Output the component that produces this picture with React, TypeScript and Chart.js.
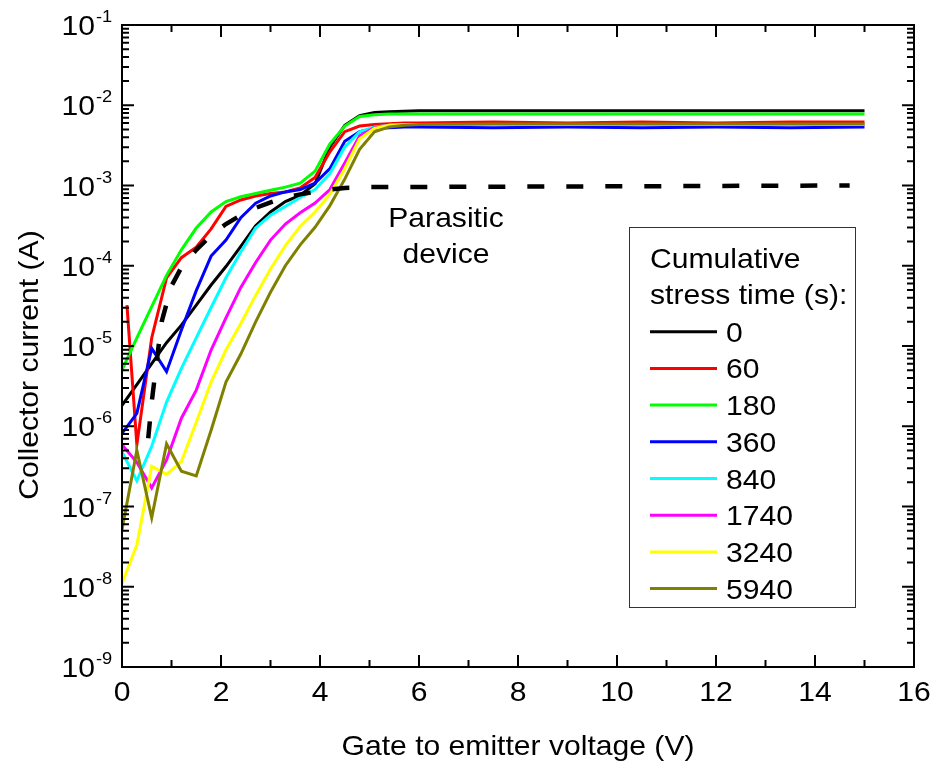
import { useEffect, useRef } from 'react';
import { Chart, registerables } from 'chart.js';

Chart.register(...registerables);

// Gate-emitter sweep (V)
const vgeSweep = [0, 0.3, 0.6, 0.9, 1.2, 1.5, 1.8, 2.1, 2.4, 2.7, 3.0, 3.3, 3.6, 3.9, 4.2, 4.5, 4.8, 5.1, 5.4, 5.7, 6.0, 7.5, 9, 10.5, 12, 13.5, 15];
const vgeSweep60 = [0.1, 0.3, 0.6, 0.9, 1.2, 1.5, 1.8, 2.1, 2.4, 2.7, 3.0, 3.3, 3.6, 3.9, 4.2, 4.5, 4.8, 5.1, 5.4, 5.7, 6.0, 7.5, 9, 10.5, 12, 13.5, 15];

// Collector current (A) after each cumulative stress time
const ic0 = [1.82e-6, 3.31e-6, 6.03e-6, 1.10e-5, 1.82e-5, 3.24e-5, 5.75e-5, 9.77e-5, 1.74e-4, 3.16e-4, 4.68e-4, 6.31e-4, 7.59e-4, 1.05e-3, 3.02e-3, 5.62e-3, 7.41e-3, 8.13e-3, 8.32e-3, 8.41e-3, 8.51e-3, 8.51e-3, 8.51e-3, 8.51e-3, 8.51e-3, 8.51e-3, 8.51e-3];
const ic60 = [3.24e-5, 5.89e-7, 1.26e-5, 7.08e-5, 1.26e-4, 1.70e-4, 2.88e-4, 5.50e-4, 6.61e-4, 7.41e-4, 7.94e-4, 8.32e-4, 9.33e-4, 1.26e-3, 2.63e-3, 4.68e-3, 5.50e-3, 5.75e-3, 5.89e-3, 6.03e-3, 6.03e-3, 6.17e-3, 6.03e-3, 6.17e-3, 6.03e-3, 6.17e-3, 6.17e-3];
const ic180 = [5.01e-6, 1.26e-5, 3.09e-5, 7.59e-5, 1.58e-4, 2.95e-4, 4.68e-4, 6.31e-4, 7.24e-4, 7.94e-4, 8.71e-4, 9.55e-4, 1.07e-3, 1.51e-3, 3.31e-3, 5.50e-3, 7.24e-3, 7.59e-3, 7.76e-3, 7.76e-3, 7.76e-3, 7.76e-3, 7.76e-3, 7.76e-3, 7.76e-3, 7.76e-3, 7.76e-3];
const ic360 = [8.13e-7, 1.45e-6, 9.33e-6, 4.79e-6, 1.58e-5, 4.90e-5, 1.32e-4, 2.09e-4, 3.98e-4, 6.03e-4, 7.41e-4, 8.32e-4, 8.91e-4, 1.07e-3, 1.62e-3, 3.55e-3, 4.68e-3, 5.13e-3, 5.25e-3, 5.37e-3, 5.37e-3, 5.25e-3, 5.37e-3, 5.25e-3, 5.37e-3, 5.25e-3, 5.37e-3];
const ic840 = [4.79e-7, 2.09e-7, 5.62e-7, 2.00e-6, 5.25e-6, 1.26e-5, 3.02e-5, 7.08e-5, 1.48e-4, 2.95e-4, 4.27e-4, 5.50e-4, 7.08e-4, 8.91e-4, 1.41e-3, 3.02e-3, 4.68e-3, 5.37e-3, 5.62e-3, 5.75e-3, 5.75e-3, 5.75e-3, 5.75e-3, 5.75e-3, 5.75e-3, 5.75e-3, 5.75e-3];
const ic1740 = [5.89e-7, 3.55e-7, 1.70e-7, 3.80e-7, 1.26e-6, 2.82e-6, 8.91e-6, 2.24e-5, 5.37e-5, 1.10e-4, 2.09e-4, 3.31e-4, 4.57e-4, 6.03e-4, 8.91e-4, 1.91e-3, 4.17e-3, 5.25e-3, 5.62e-3, 5.75e-3, 5.75e-3, 5.75e-3, 5.75e-3, 5.75e-3, 5.75e-3, 5.75e-3, 5.75e-3];
const ic3240 = [1.10e-8, 3.31e-8, 3.16e-7, 2.51e-7, 3.63e-7, 1.12e-6, 3.55e-6, 8.91e-6, 1.91e-5, 4.27e-5, 9.12e-5, 1.78e-4, 3.09e-4, 4.68e-4, 7.76e-4, 1.62e-3, 3.80e-3, 5.13e-3, 5.62e-3, 5.75e-3, 5.75e-3, 5.75e-3, 5.75e-3, 5.75e-3, 5.75e-3, 5.75e-3, 5.75e-3];
const ic5940 = [5.13e-8, 5.01e-7, 7.24e-8, 6.03e-7, 2.75e-7, 2.40e-7, 8.91e-7, 3.55e-6, 7.94e-6, 2.00e-5, 4.68e-5, 1.00e-4, 1.82e-4, 3.02e-4, 5.62e-4, 1.20e-3, 2.82e-3, 4.68e-3, 5.37e-3, 5.62e-3, 5.75e-3, 5.83e-3, 5.83e-3, 5.83e-3, 5.83e-3, 5.83e-3, 5.83e-3];

// Parasitic device characteristic
const vgeParasitic = [0.53, 0.6, 0.8, 1.0, 1.2, 1.5, 1.8, 2.1, 2.4, 2.7, 3.0, 3.3, 3.6, 3.9, 4.2, 4.5, 5.0, 14.7];
const icParasitic = [7.08e-7, 2.00e-6, 2.00e-5, 5.62e-5, 9.55e-5, 1.58e-4, 2.40e-4, 3.31e-4, 4.27e-4, 5.25e-4, 6.17e-4, 7.08e-4, 7.76e-4, 8.32e-4, 8.91e-4, 9.33e-4, 9.55e-4, 1.00e-3];

const stressLabels = ['0', '60', '180', '360', '840', '1740', '3240', '5940'];
const stressColors = ['#000000', '#ff0000', '#00ff00', '#0000ff', '#00ffff', '#ff00ff', '#ffff00', '#808000'];
const stressSeries = [ic0, ic60, ic180, ic360, ic840, ic1740, ic3240, ic5940];

const xMajorTicks = [0, 2, 4, 6, 8, 10, 12, 14, 16];
const xMinorTicks = [1, 3, 5, 7, 9, 11, 13, 15];
const yDecades = [-9, -8, -7, -6, -5, -4, -3, -2, -1];

const FONT = "'Liberation Sans', Arial, sans-serif";
const STRETCH = 1.075;

function drawText(
  ctx: CanvasRenderingContext2D,
  text: string,
  x: number,
  y: number,
  size: number,
  align: CanvasTextAlign,
  rotate = false
) {
  ctx.save();
  ctx.translate(x, y);
  if (rotate) ctx.rotate(-Math.PI / 2);
  ctx.scale(STRETCH, 1);
  ctx.font = `${size}px ${FONT}`;
  ctx.textAlign = align;
  ctx.textBaseline = 'alphabetic';
  ctx.fillStyle = '#000';
  ctx.fillText(text, 0, 0);
  ctx.restore();
}

const framePlugin = {
  id: 'frame',
  afterDatasetsDraw(chart: any) {
    const { ctx, chartArea: a, scales } = chart;
    const xs = scales.x;
    const ys = scales.y;
    ctx.save();
    ctx.strokeStyle = '#000';
    ctx.lineWidth = 2;
    ctx.strokeRect(a.left, a.top, a.right - a.left, a.bottom - a.top);

    // x ticks (bottom and top, pointing inward)
    ctx.beginPath();
    for (const v of xMajorTicks) {
      const px = xs.getPixelForValue(v);
      ctx.moveTo(px, a.bottom); ctx.lineTo(px, a.bottom - 12);
      ctx.moveTo(px, a.top); ctx.lineTo(px, a.top + 12);
    }
    for (const v of xMinorTicks) {
      const px = xs.getPixelForValue(v);
      ctx.moveTo(px, a.bottom); ctx.lineTo(px, a.bottom - 7);
      ctx.moveTo(px, a.top); ctx.lineTo(px, a.top + 7);
    }
    // y ticks (left and right, log decades with minor ticks)
    for (const e of yDecades) {
      const base = Math.pow(10, e);
      const py = ys.getPixelForValue(base);
      ctx.moveTo(a.left, py); ctx.lineTo(a.left + 12, py);
      ctx.moveTo(a.right, py); ctx.lineTo(a.right - 12, py);
      if (e < -1) {
        for (let m = 2; m <= 9; m++) {
          const pm = ys.getPixelForValue(m * base);
          ctx.moveTo(a.left, pm); ctx.lineTo(a.left + 7, pm);
          ctx.moveTo(a.right, pm); ctx.lineTo(a.right - 7, pm);
        }
      }
    }
    ctx.stroke();

    // tick labels
    for (const v of xMajorTicks) {
      drawText(ctx, String(v), xs.getPixelForValue(v), a.bottom + 34, 28, 'center');
    }
    for (const e of yDecades) {
      const py = ys.getPixelForValue(Math.pow(10, e));
      drawText(ctx, '10', 95, py + 10, 28, 'right');
      drawText(ctx, String(e), 96, py - 3, 17, 'left');
    }

    // axis titles
    drawText(ctx, 'Gate to emitter voltage (V)', 518, 755, 28, 'center');
    drawText(ctx, 'Collector current (A)', 38, 365, 28, 'center', true);

    // annotation
    drawText(ctx, 'Parasitic', 446, 227, 28, 'center');
    drawText(ctx, 'device', 446, 263, 28, 'center');

    // legend box
    ctx.lineWidth = 1;
    ctx.strokeStyle = '#333';
    ctx.strokeRect(629.5, 227.5, 226, 380);
    drawText(ctx, 'Cumulative', 650, 268, 28, 'left');
    drawText(ctx, 'stress time (s):', 650, 304, 28, 'left');
    chart.data.datasets.forEach((ds: any, i: number) => {
      if (i >= stressLabels.length) return;
      const base = 341.7 + i * 36.7;
      ctx.strokeStyle = ds.borderColor;
      ctx.lineWidth = 3;
      ctx.beginPath();
      ctx.moveTo(650, base - 10);
      ctx.lineTo(717, base - 10);
      ctx.stroke();
      drawText(ctx, ds.label, 726, base, 28, 'left');
    });
    ctx.restore();
  },
};

export default function App() {
  const ref = useRef<HTMLCanvasElement | null>(null);

  useEffect(() => {
    if (!ref.current) return;
    const datasets: any[] = stressSeries.map((vals, i) => {
      const xsArr = i === 1 ? vge60() : vgeSweep;
      return {
        label: stressLabels[i],
        data: vals.map((y, k) => ({ x: xsArr[k], y })),
        borderColor: stressColors[i],
        backgroundColor: stressColors[i],
        borderWidth: 3,
        order: 10 - i,
      };
    });
    datasets.push({
      label: 'Parasitic device',
      data: icParasitic.map((y, k) => ({ x: vgeParasitic[k], y })),
      borderColor: '#000',
      borderWidth: 4.5,
      borderDash: [17, 22],
      order: 1,
    });

    const chart = new Chart(ref.current, {
      type: 'line',
      data: { datasets },
      options: {
        animation: false,
        responsive: false,
        maintainAspectRatio: false,
        layout: { padding: { left: 122, top: 25, right: 20, bottom: 94 } },
        scales: {
          x: { type: 'linear', min: 0, max: 16, display: false },
          y: { type: 'logarithmic', min: 1e-9, max: 1e-1, display: false },
        },
        elements: { point: { radius: 0 }, line: { tension: 0 } },
        plugins: { legend: { display: false }, tooltip: { enabled: false } },
      },
      plugins: [framePlugin],
    });
    return () => chart.destroy();
  }, []);

  return (
    <div style={{ position: 'fixed', left: 0, top: 0, width: 934, height: 761, background: '#fff' }}>
      <canvas ref={ref} width={934} height={761} />
    </div>
  );
}

function vge60() {
  return vgeSweep60;
}
